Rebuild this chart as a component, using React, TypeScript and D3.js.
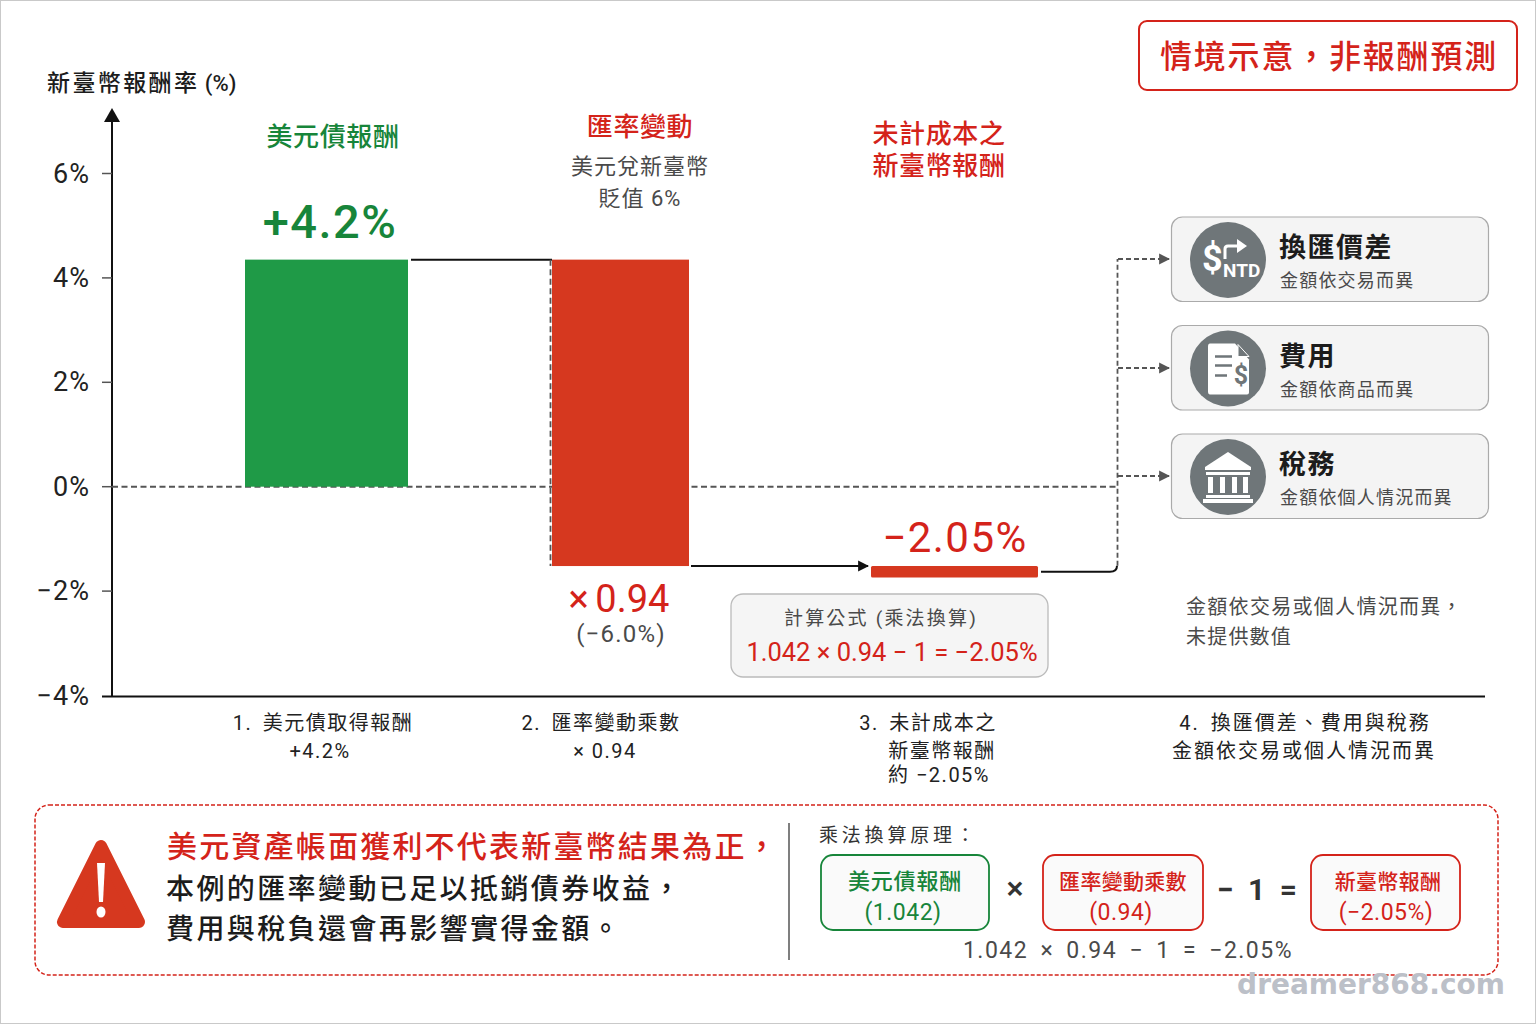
import * as d3 from "d3";
import type { ReactNode } from "react";

const FONT = 'Roboto, "Noto Sans CJK TC", "Noto Sans", sans-serif';
const GREEN = "#17853a";
const RED = "#d4231a";
const BAR_GREEN = "#1f9a47";
const BAR_RED = "#d6381f";
const INK = "#1c1c1c";
const MUTED = "#4a4a4a";

const yTicks = [6, 4, 2, 0, -2, -4];
const barStarts = [0, 4.35, -1.52];
const barEnds = [4.35, -1.52, -1.74];
const barNames = ["bond", "fx", "net"];
const barColors = [BAR_GREEN, BAR_RED, BAR_RED];

const stepLabels = [
  ["1. 美元債取得報酬", "+4.2%"],
  ["2. 匯率變動乘數", "× 0.94"],
  ["3. 未計成本之", "新臺幣報酬", "約 −2.05%"],
  ["4. 換匯價差、費用與稅務", "金額依交易或個人情況而異"],
];
const costTitles = ["換匯價差", "費用", "稅務"];
const costNotes = ["金額依交易而異", "金額依商品而異", "金額依個人情況而異"];

// layout only
const y = d3.scaleLinear().domain([-4, 6]).range([695.5, 173.5]);
const barX: Record<string, [number, number]> = { bond: [245, 408], fx: [552, 689], net: [871, 1038] };
const stepX = [
  [323, 320],
  [601, 605],
  [928, 942, 939],
  [1305, 1304],
];
const stepBaselines = [730, 758, 782];
const cardY = d3.scalePoint<number>().domain([0, 1, 2]).range([217, 434]);

type TProps = {
  x: number;
  y: number;
  size: number;
  fill?: string;
  weight?: number;
  anchor?: "start" | "middle" | "end";
  spacing?: number;
  wordSpacing?: number;
  family?: string;
  children: ReactNode;
};

function T({ x, y, size, fill = INK, weight = 400, anchor = "start", spacing = 0, wordSpacing = 0, family = FONT, children }: TProps) {
  return (
    <text x={x} y={y} fontSize={size} fill={fill} fontWeight={weight} textAnchor={anchor} letterSpacing={spacing} wordSpacing={wordSpacing} fontFamily={family}>
      {children}
    </text>
  );
}

function ExchangeIcon() {
  return (
    <g fill="#fff">
      <text x={-26} y={11} fontSize={36} fontWeight={700} fontFamily={FONT}>$</text>
      <text x={-5} y={17} fontSize={19} fontWeight={700} fontFamily="Roboto, sans-serif">NTD</text>
      <path d="M-3 -1 V-11 Q-3 -14 0 -14 H10" fill="none" stroke="#fff" strokeWidth={3} />
      <path d="M9 -21 L19 -14 L9 -7 Z" />
    </g>
  );
}

function BillIcon() {
  return (
    <g>
      <path d="M-18 -25 H7 L21 -9 V24 Q21 26 19 26 H-18 Q-20 26 -20 23 V-22 Q-20 -25 -18 -25 Z" fill="#fff" />
      <path d="M10 -24 L21 -12 H10 Z" fill="#6f7679" stroke="#fff" strokeWidth={1} />
      <path d="M-13 -12 H4 M-13 -3 H4 M-13 7 H-1" stroke="#6f7679" strokeWidth={2.5} />
      <text x={13} y={15} textAnchor="middle" fontSize={25} fontWeight={700} fill="#6f7679" fontFamily={FONT}>$</text>
    </g>
  );
}

function BankIcon() {
  return (
    <g fill="#fff">
      <path d="M0 -25 L23 -10 V-7 H-23 V-10 Z" />
      <rect x={-22} y={-5} width={44} height={3} />
      <rect x={-20} y={0} width={5} height={16} />
      <rect x={-8} y={0} width={5} height={16} />
      <rect x={4} y={0} width={5} height={16} />
      <rect x={15} y={0} width={5} height={16} />
      <rect x={-22} y={18} width={44} height={3} />
      <rect x={-25} y={22} width={50} height={4} />
    </g>
  );
}

const costIcons = [<ExchangeIcon />, <BillIcon />, <BankIcon />];

function Arrowhead({ id, fill }: { id: string; fill: string }) {
  return (
    <marker id={id} viewBox="0 0 10 10" refX={9} refY={5} markerWidth={11} markerHeight={14} markerUnits="userSpaceOnUse" orient="auto">
      <path d="M0 0 L10 5 L0 10 Z" fill={fill} />
    </marker>
  );
}

type BoxProps = { x: number; w: number; stroke: string; fill: string; lines: string[]; cx: number; size: number; spacing: number };

function FormulaBox({ x, w, stroke, fill, lines, cx, size, spacing }: BoxProps) {
  return (
    <g>
      <rect x={x} y={855} width={w} height={75} rx={12} fill="#fafafa" stroke={stroke} strokeWidth={1.8} />
      <T x={cx} y={889} size={size} fill={fill} anchor="middle" weight={500} spacing={spacing}>{lines[0]}</T>
      <T x={cx - 2} y={920} size={23} fill={fill} anchor="middle" spacing={0.5}>{lines[1]}</T>
    </g>
  );
}

export default function App() {
  const zero = y(0);
  const bondTop = y(barEnds[0]);
  const fxBottom = y(barEnds[1]);
  const netMid = y(-1.63);
  const branchYs = [259, 368, 476];

  return (
    <svg width={1536} height={1024} viewBox="0 0 1536 1024" style={{ position: "absolute", left: 0, top: 0, background: "#fff" }}>
      <defs>
        <Arrowhead id="head-black" fill="#111" />
        <Arrowhead id="head-grey" fill="#555" />
      </defs>
      <rect x={0.5} y={0.5} width={1535} height={1023} fill="#fff" stroke="#c9c9c9" />

      {/* stamp */}
      <rect x={1139} y={21} width={378} height={69} rx={8} fill="#fff" stroke={RED} strokeWidth={2} />
      <T x={1329} y={68} size={32} fill={RED} weight={500} anchor="middle" spacing={1.8}>情境示意，非報酬預測</T>

      {/* axes */}
      <T x={47} y={91} size={23} weight={500} spacing={2.4}>
        新臺幣報酬率<tspan letterSpacing={0} fontSize={22}> (%)</tspan>
      </T>
      <path d={`M112 ${y(-4) + 1} V118`} stroke="#111" strokeWidth={2} />
      <path d="M104 122 L112 108 L120 122 Z" fill="#111" />
      <path d={`M102 ${y(-4) + 1} H1485`} stroke="#111" strokeWidth={2} />
      {yTicks.map((t) => (
        <g key={t}>
          {t !== -4 && <path d={`M102 ${y(t)} H112`} stroke="#555" strokeWidth={1.5} />}
          <T x={90} y={y(t) + 9} size={27} anchor="end" fill="#222" spacing={1}>{t < 0 ? `−${-t}%` : `${t}%`}</T>
        </g>
      ))}

      {/* zero line */}
      <path d={`M112 ${zero} H1118`} stroke="#555" strokeWidth={2} strokeDasharray="6 3.5" />

      {/* bars */}
      {barNames.map((name, i) => {
        const [x0, x1] = barX[name];
        const top = Math.min(y(barStarts[i]), y(barEnds[i]));
        const h = Math.abs(y(barStarts[i]) - y(barEnds[i]));
        return <rect key={name} x={x0} y={top} width={x1 - x0} height={h} fill={barColors[i]} rx={name === "net" ? 1.5 : 0} />;
      })}

      {/* connectors */}
      <path d={`M411 ${bondTop} H552`} stroke="#111" strokeWidth={2} />
      <path d={`M550.5 ${bondTop} V${fxBottom}`} stroke="#555" strokeWidth={1.8} strokeDasharray="6 3.5" />
      <path d={`M691 ${fxBottom} H868`} stroke="#111" strokeWidth={2} markerEnd="url(#head-black)" />
      <path d={`M1041 ${netMid} H1110 Q1117 ${netMid} 1117 ${netMid - 6}`} fill="none" stroke="#111" strokeWidth={2} />
      <path d={`M1117.5 ${netMid - 6} V${branchYs[0]}`} stroke="#555" strokeWidth={1.8} strokeDasharray="5 3" />
      {branchYs.map((by) => (
        <path key={by} d={`M1118 ${by} H1169`} stroke="#555" strokeWidth={1.8} strokeDasharray="5 3" markerEnd="url(#head-grey)" />
      ))}

      {/* column headers */}
      <T x={333} y={146} size={26} fill={GREEN} weight={500} anchor="middle" spacing={0.6}>美元債報酬</T>
      <T x={330} y={238} size={47} fill={GREEN} weight={500} anchor="middle" spacing={1.5}>+4.2%</T>
      <T x={640} y={136} size={26} fill={RED} weight={500} anchor="middle" spacing={0.6}>匯率變動</T>
      <T x={640} y={174} size={22} fill={MUTED} anchor="middle" spacing={1}>美元兌新臺幣</T>
      <T x={640} y={206} size={22} fill={MUTED} anchor="middle" spacing={1}>貶值 6%</T>
      <T x={939} y={143} size={26} fill={RED} weight={500} anchor="middle" spacing={0.6}>未計成本之</T>
      <T x={939} y={175} size={26} fill={RED} weight={500} anchor="middle" spacing={0.6}>新臺幣報酬</T>

      <T x={955} y={552} size={42} fill={RED} anchor="middle" spacing={1.5}>−2.05%</T>
      <T x={619} y={612} size={38} fill={RED} anchor="middle" wordSpacing={-3}>× 0.94</T>
      <T x={621} y={642} size={24} fill={MUTED} anchor="middle" spacing={1.2}>(−6.0%)</T>

      {/* formula box */}
      <rect x={731} y={594} width={317} height={83} rx={12} fill="#f5f5f5" stroke="#bbb" strokeWidth={1.3} />
      <T x={881} y={625} size={19} fill={MUTED} anchor="middle" spacing={2.2}>計算公式 (乘法換算)</T>
      <T x={892} y={661} size={25.5} fill={RED} anchor="middle">1.042 × 0.94 − 1 = −2.05%</T>

      {/* cost cards */}
      {costTitles.map((title, i) => {
        const top = cardY(i) ?? 0;
        return (
          <g key={title}>
            <rect x={1171.5} y={top} width={317} height={84.5} rx={11} fill="#f4f4f4" stroke="#aaa" strokeWidth={1.2} />
            <g transform={`translate(1228,${top + 43})`}>
              <circle r={38} fill="#6f7679" />
              {costIcons[i]}
            </g>
            <T x={1279} y={top + 40} size={27} weight={700} spacing={1.5}>{title}</T>
            <T x={1280} y={top + 70} size={18} fill={MUTED} spacing={1.2}>{costNotes[i]}</T>
          </g>
        );
      })}
      <T x={1186} y={614} size={20} fill={MUTED} spacing={1.3}>金額依交易或個人情況而異，</T>
      <T x={1186} y={644} size={20} fill={MUTED} spacing={1.2}>未提供數值</T>

      {/* step labels */}
      {stepLabels.map((lines, i) =>
        lines.map((line, j) => (
          <T
            key={line}
            x={stepX[i][j]}
            y={stepBaselines[j]}
            size={20}
            fill="#222"
            anchor="middle"
            spacing={i === 3 ? 2 : 1.5}
            wordSpacing={j === 0 ? 4 : 0}
          >
            {line}
          </T>
        )),
      )}

      {/* bottom panel */}
      <rect x={35} y={805} width={1463} height={170} rx={14} fill="#fff" stroke={RED} strokeWidth={1.5} strokeDasharray="4 2" />
      <path d="M101 846 L63 922 H139 Z" fill={BAR_RED} stroke={BAR_RED} strokeWidth={12} strokeLinejoin="round" />
      <path d="M97 863 H105 L103 902 H99 Z" fill="#fff" />
      <ellipse cx={101} cy={912} rx={4.5} ry={5.5} fill="#fff" />
      <T x={167} y={857} size={30} fill={RED} weight={500} spacing={2.2}>美元資產帳面獲利不代表新臺幣結果為正，</T>
      <T x={166} y={899} size={28} weight={500} spacing={2.4}>本例的匯率變動已足以抵銷債券收益，</T>
      <T x={166} y={939} size={28} weight={500} spacing={2.4}>費用與稅負還會再影響實得金額。</T>

      <path d="M789 823 V960" stroke="#555" strokeWidth={1.5} />
      <T x={819} y={842} size={19} fill="#333" spacing={3.8}>乘法換算原理：</T>
      <FormulaBox x={821} w={168} stroke={GREEN} fill={GREEN} lines={["美元債報酬", "(1.042)"]} cx={905} size={22} spacing={0.8} />
      <FormulaBox x={1043} w={160} stroke={RED} fill={RED} lines={["匯率變動乘數", "(0.94)"]} cx={1123} size={21} spacing={0.3} />
      <FormulaBox x={1311} w={149} stroke={RED} fill={RED} lines={["新臺幣報酬", "(−2.05%)"]} cx={1388} size={21} spacing={0.3} />
      <T x={1015} y={899} size={32} fill="#333" anchor="middle" weight={500}>×</T>
      <T x={1258} y={900} size={30} fill="#333" anchor="middle" weight={700} spacing={2} wordSpacing={3}>− 1 =</T>
      <T x={1128} y={958} size={23} fill={MUTED} anchor="middle" spacing={1.5} wordSpacing={5}>1.042 × 0.94 − 1 = −2.05%</T>

      <T x={1371} y={994} size={28} fill="#bcc0c8" anchor="middle" weight={700} family='"DejaVu Sans", sans-serif'>dreamer868.com</T>
    </svg>
  );
}
